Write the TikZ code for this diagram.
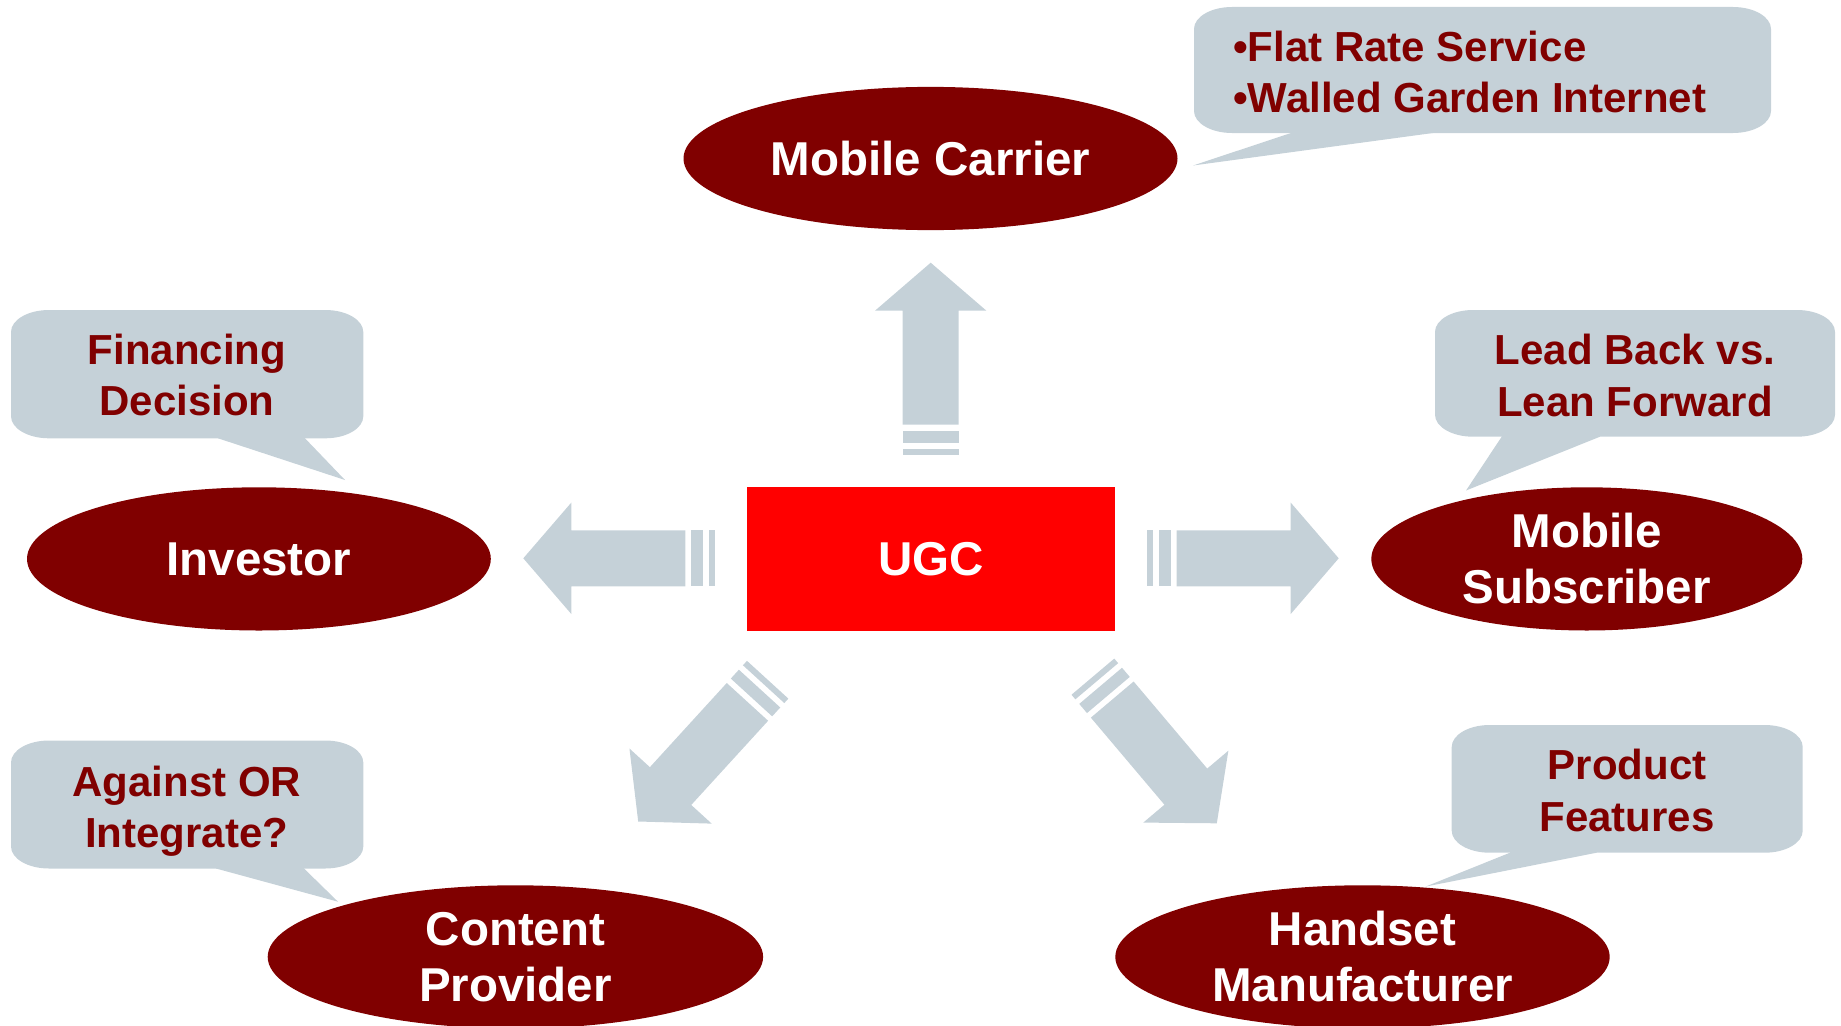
\documentclass[tikz,border=0pt]{standalone}
\usepackage{fontspec}
\setmainfont{Liberation Sans}
\usetikzlibrary{shapes.geometric}
\definecolor{ellred}{HTML}{800000}
\definecolor{ugcred}{HTML}{FF0000}
\definecolor{cgrey}{HTML}{C5D1D8}
% rounded callout box: x1, ytop, x2, ybottom (pixel coordinates, y downwards)
\newcommand\cbox[4]{%
  \fill[cgrey] (#1+38,-#2) -- (#3-38,-#2)
    arc[start angle=90,end angle=0,x radius=38,y radius=22]
    -- (#3,-#4+22)
    arc[start angle=0,end angle=-90,x radius=38,y radius=22]
    -- (#1+38,-#4)
    arc[start angle=270,end angle=180,x radius=38,y radius=22]
    -- (#1,-#2-22)
    arc[start angle=180,end angle=90,x radius=38,y radius=22]
    -- cycle;}
% pointer: base x1, base x2, base y, tip x, tip y (pixels)
\newcommand\cpointer[5]{%
  \fill[cgrey] (#1,-#3) -- (#4,-#5) -- (#2,-#3) -- (#2,-#3+12) -- (#1,-#3+12) -- cycle;}
\begin{document}
\begin{tikzpicture}[x=1pt,y=1pt,
  ell/.style={ellipse, fill=ellred, text=white, inner sep=0pt, align=center,
    minimum height=143.2, font=\fontsize{47.5}{56}\selectfont\bfseries},
  ctext/.style={text=ellred, align=center, inner sep=0pt,
    font=\fontsize{42}{51.3}\selectfont\bfseries},
  blockarrow/.pic={
    \fill[cgrey] (0,0) -- (-48,55.7) -- (-48,28) -- (-162,28) -- (-162,-28)
      -- (-48,-28) -- (-48,-55.7) -- cycle;
    \fill[cgrey] (-168,-28) rectangle (-180,28);
    \fill[cgrey] (-186,-28) rectangle (-192,28);
  }
]
\useasboundingbox (0,0) rectangle (1841,-1025);
\clip (0,0) rectangle (1841,-1025);

% callout boxes
\cbox{1194}{7}{1771}{133}
\cpointer{1291}{1433}{133}{1193}{165.5}
\cbox{11}{310}{363.3}{438.3}
\cpointer{218}{305}{438.3}{345}{480}
\cbox{1435}{310}{1835}{436.7}
\cpointer{1501.7}{1600}{436.7}{1466}{490.5}
\cbox{1451.7}{725}{1802.7}{852.7}
\cpointer{1510}{1596.7}{852.7}{1425.5}{886.6}
\cbox{11}{740.5}{363.3}{868.5}
\cpointer{216}{304}{868.5}{338}{901.7}

% callout texts
\node[ctext, anchor=west, align=left, font=\fontsize{42}{51.3}\selectfont\bfseries]
  (flat) at (1233,-72.3) {•Flat Rate Service\\•Walled Garden Internet};
\node[ctext] (financing) at (187,-375.2) {Financing\\Decision};
\node[ctext] (leadback) at (1635,-375.5) {Lead Back vs.\\Lean Forward};
\node[ctext] (product) at (1627,-790.5) {Product\\Features};
\node[ctext] (against) at (186.7,-811) {Against OR\\Integrate?};

% ellipses
\node[ell, minimum width=494] (carrier) at (930.5,-158.5) {Mobile Carrier};
\node[ell, minimum width=463.8] (investor) at (258.9,-558.9) {Investor};
\node[ell, minimum width=431] (subscriber) at (1586.8,-558.9) {Mobile\\Subscriber};
\node[ell, minimum width=495.4] (content) at (515.4,-956.9) {Content\\Provider};
\node[ell, minimum width=494.4] (handset) at (1362.5,-956.9) {Handset\\Manufacturer};

% centre box
\node[rectangle, fill=ugcred, text=white, inner sep=0pt, minimum width=368.7,
  minimum height=143.2, font=\fontsize{47.5}{56}\selectfont\bfseries]
  (ugc) at (931,-558.9) {UGC};

% block arrows
\pic[rotate=90] at (930.7,-262.7) {blockarrow};
\pic[rotate=180] at (523.3,-558.3) {blockarrow};
\pic at (1338.7,-558.3) {blockarrow};
\pic[rotate=227.6] at (638.2,-821.5) {blockarrow};
\pic[rotate=-49.8] at (1216.8,-823.3) {blockarrow};
\end{tikzpicture}
\end{document}
